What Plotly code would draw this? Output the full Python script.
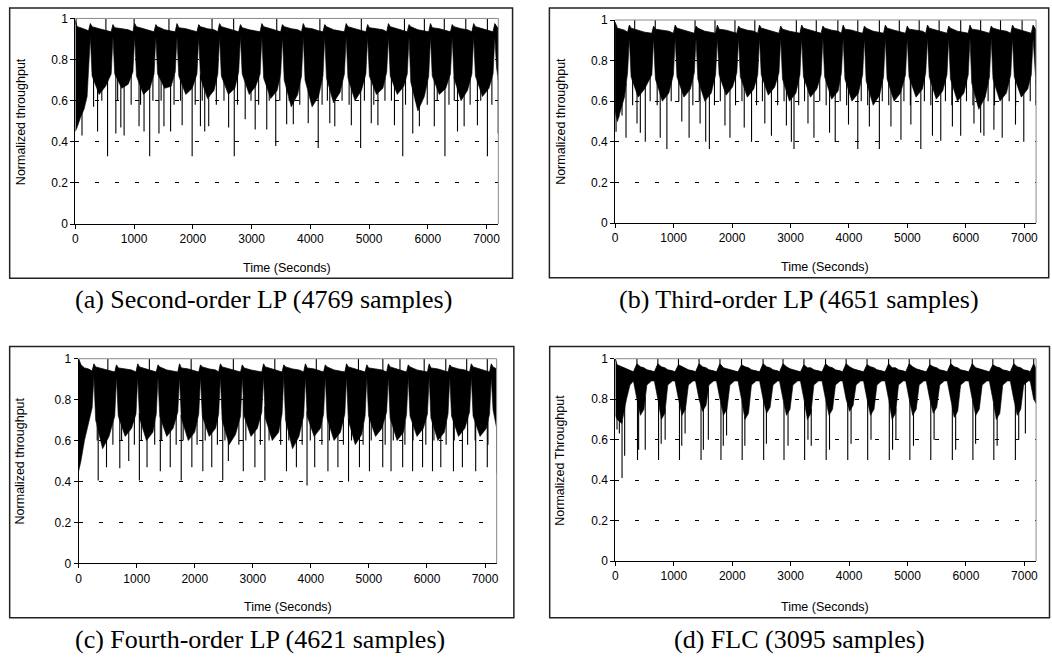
import numpy as np
import plotly.graph_objects as go

# Envelope knots (time in s, normalized throughput).
# low/high = lower and upper edge of the solid black band, dips = thin downward
# needles, peaks = thin needles up to 1.

# (a) Second-order LP
a_time = [0, 30, 90, 150, 200, 225,
          255, 285, 405, 515, 610,
          640, 670, 790, 900, 980,
          1010, 1040, 1160, 1270, 1340,
          1370, 1400, 1520, 1630, 1700,
          1730, 1760, 1880, 1990, 2070,
          2100, 2130, 2250, 2360, 2425,
          2455, 2485, 2605, 2715, 2780,
          2810, 2840, 2960, 3070, 3145,
          3175, 3205, 3325, 3435, 3495,
          3525, 3555, 3675, 3785, 3850,
          3880, 3910, 4030, 4140, 4215,
          4245, 4275, 4395, 4505, 4580,
          4610, 4640, 4760, 4870, 4945,
          4975, 5005, 5125, 5235, 5300,
          5330, 5360, 5480, 5590, 5650,
          5680, 5710, 5830, 5940, 6015,
          6045, 6075, 6195, 6305, 6385,
          6415, 6445, 6565, 6675, 6750,
          6780, 6810, 6930, 7040, 7110,
          7140, 7170, 7200]
a_low = [0.45, 0.47, 0.52, 0.56, 0.62, 0.74,
         0.91, 0.72, 0.63, 0.67, 0.73,
         0.91, 0.73, 0.66, 0.68, 0.74,
         0.91, 0.72, 0.63, 0.66, 0.73,
         0.91, 0.73, 0.66, 0.67, 0.74,
         0.91, 0.72, 0.63, 0.66, 0.73,
         0.91, 0.71, 0.61, 0.65, 0.73,
         0.91, 0.72, 0.63, 0.66, 0.74,
         0.91, 0.73, 0.63, 0.67, 0.73,
         0.91, 0.71, 0.61, 0.65, 0.73,
         0.91, 0.70, 0.57, 0.63, 0.72,
         0.91, 0.70, 0.57, 0.62, 0.72,
         0.91, 0.71, 0.59, 0.64, 0.73,
         0.91, 0.71, 0.60, 0.65, 0.73,
         0.91, 0.72, 0.63, 0.66, 0.74,
         0.91, 0.72, 0.63, 0.67, 0.73,
         0.91, 0.69, 0.55, 0.62, 0.72,
         0.91, 0.72, 0.63, 0.66, 0.73,
         0.91, 0.71, 0.60, 0.65, 0.73,
         0.91, 0.72, 0.62, 0.66, 0.73,
         0.91, 0.76, 0.70]
a_high = [0.99, 0.96, 0.955, 0.95, 0.945, 0.94,
          0.975, 0.96, 0.95, 0.94, 0.935,
          0.97, 0.955, 0.95, 0.945, 0.935,
          0.975, 0.96, 0.95, 0.94, 0.935,
          0.97, 0.96, 0.945, 0.94, 0.935,
          0.975, 0.955, 0.95, 0.94, 0.935,
          0.97, 0.96, 0.95, 0.945, 0.935,
          0.975, 0.96, 0.95, 0.94, 0.935,
          0.97, 0.955, 0.945, 0.94, 0.935,
          0.975, 0.96, 0.95, 0.94, 0.935,
          0.97, 0.96, 0.95, 0.945, 0.935,
          0.975, 0.955, 0.95, 0.94, 0.935,
          0.97, 0.96, 0.945, 0.94, 0.935,
          0.975, 0.96, 0.95, 0.94, 0.935,
          0.97, 0.955, 0.95, 0.945, 0.935,
          0.975, 0.96, 0.95, 0.94, 0.935,
          0.97, 0.96, 0.945, 0.94, 0.935,
          0.975, 0.955, 0.95, 0.94, 0.935,
          0.97, 0.96, 0.95, 0.945, 0.935,
          0.975, 0.96, 0.95, 0.94, 0.935,
          0.975, 0.96, 0.95]
a_dip_time = [113, 378, 548, 689, 774, 830, 1084, 1169, 1265, 1423, 1508, 1621,
              1818, 1988, 2129, 2202, 2270, 2609, 2705, 2891, 3061, 3258, 3411,
              3597, 3710, 3964, 4134, 4331, 4416, 4698, 4856, 5037, 5150, 5432,
              5573, 5743, 5856, 6110, 6291, 6505, 6618, 6844, 7014, 7198,
              310, 450, 720, 950, 1110, 1320, 1460, 1680, 1790, 2040, 2160, 2400,
              2530, 2760, 2990, 3120, 3300, 3480, 3640, 3820, 4060, 4200, 4290,
              4540, 4660, 4920, 5080, 5270, 5380, 5620, 5790, 5990, 6160, 6360,
              6450, 6720, 6900, 7090]
a_dip_val = [0.43, 0.45, 0.33, 0.44, 0.47, 0.43, 0.475, 0.45, 0.33, 0.44, 0.475, 0.45,
             0.48, 0.33, 0.475, 0.45, 0.475, 0.47, 0.33, 0.51, 0.46, 0.46, 0.38,
             0.485, 0.485, 0.49, 0.37, 0.49, 0.475, 0.48, 0.37, 0.49, 0.48, 0.48,
             0.33, 0.44, 0.475, 0.475, 0.33, 0.45, 0.475, 0.48, 0.33, 0.44,
             0.57, 0.60, 0.60, 0.58, 0.58, 0.60, 0.60, 0.58, 0.60, 0.58, 0.60, 0.58,
             0.60, 0.58, 0.60, 0.58, 0.60, 0.60, 0.60, 0.58, 0.60, 0.58, 0.60,
             0.60, 0.58, 0.60, 0.58, 0.60, 0.60, 0.58, 0.60, 0.58, 0.60, 0.58,
             0.60, 0.58, 0.60, 0.58]
a_peak_time = [11, 520, 1000, 1593, 2327, 2694, 3428, 4162, 4868, 5602, 5941, 6280, 6646, 7014]
a_peak_val = [1.0, 1.0, 1.0, 1.0, 1.0, 1.0, 1.0, 1.0, 1.0, 1.0, 1.0, 1.0, 1.0, 1.0]

# (b) Third-order LP
b_time = [0, 40, 100, 160, 214,
          244, 274, 394, 504, 629,
          659, 689, 809, 919, 998,
          1028, 1058, 1178, 1288, 1355,
          1385, 1415, 1535, 1645, 1719,
          1749, 1779, 1899, 2009, 2082,
          2112, 2142, 2262, 2372, 2440,
          2470, 2500, 2620, 2730, 2803,
          2833, 2863, 2983, 3093, 3161,
          3191, 3221, 3341, 3451, 3524,
          3554, 3584, 3704, 3814, 3871,
          3901, 3931, 4051, 4161, 4234,
          4264, 4294, 4414, 4524, 4592,
          4622, 4652, 4772, 4882, 4967,
          4997, 5027, 5147, 5257, 5313,
          5343, 5373, 5493, 5603, 5676,
          5706, 5736, 5856, 5966, 6040,
          6070, 6100, 6220, 6330, 6403,
          6433, 6463, 6583, 6693, 6767,
          6797, 6827, 6947, 7057, 7119,
          7149, 7179, 7200]
b_low = [0.55, 0.50, 0.56, 0.62, 0.74,
         0.91, 0.72, 0.62, 0.66, 0.73,
         0.91, 0.71, 0.60, 0.64, 0.73,
         0.91, 0.72, 0.62, 0.66, 0.74,
         0.91, 0.71, 0.60, 0.64, 0.73,
         0.91, 0.73, 0.63, 0.67, 0.74,
         0.91, 0.72, 0.62, 0.66, 0.73,
         0.91, 0.73, 0.63, 0.67, 0.74,
         0.91, 0.71, 0.60, 0.64, 0.73,
         0.91, 0.72, 0.62, 0.66, 0.73,
         0.91, 0.72, 0.61, 0.65, 0.74,
         0.91, 0.71, 0.60, 0.64, 0.73,
         0.91, 0.70, 0.58, 0.63, 0.72,
         0.91, 0.71, 0.60, 0.64, 0.73,
         0.91, 0.72, 0.62, 0.66, 0.74,
         0.91, 0.72, 0.61, 0.65, 0.73,
         0.91, 0.71, 0.60, 0.64, 0.73,
         0.91, 0.69, 0.56, 0.62, 0.72,
         0.91, 0.71, 0.60, 0.64, 0.73,
         0.91, 0.72, 0.62, 0.66, 0.73,
         0.91, 0.76, 0.68]
b_high = [0.99, 0.96, 0.955, 0.95, 0.94,
          0.975, 0.96, 0.95, 0.94, 0.935,
          0.97, 0.955, 0.95, 0.945, 0.935,
          0.975, 0.96, 0.95, 0.94, 0.935,
          0.97, 0.96, 0.945, 0.94, 0.935,
          0.975, 0.955, 0.95, 0.94, 0.935,
          0.97, 0.96, 0.95, 0.945, 0.935,
          0.975, 0.96, 0.95, 0.94, 0.935,
          0.97, 0.955, 0.945, 0.94, 0.935,
          0.975, 0.96, 0.95, 0.94, 0.935,
          0.97, 0.96, 0.95, 0.945, 0.935,
          0.975, 0.955, 0.95, 0.94, 0.935,
          0.97, 0.96, 0.945, 0.94, 0.935,
          0.975, 0.96, 0.95, 0.94, 0.935,
          0.97, 0.955, 0.95, 0.945, 0.935,
          0.975, 0.96, 0.95, 0.94, 0.935,
          0.97, 0.96, 0.945, 0.94, 0.935,
          0.975, 0.955, 0.95, 0.94, 0.935,
          0.97, 0.96, 0.95, 0.945, 0.935,
          0.975, 0.96, 0.95, 0.94, 0.935,
          0.975, 0.96, 0.95]
b_dip_time = [17, 62, 119, 187, 375, 432, 517, 772, 886, 1141, 1266, 1454, 1550,
              1613, 1879, 1965, 2209, 2334, 2561, 2674, 2930, 3015, 3060, 3299,
              3401, 3668, 3765, 3992, 4151, 4349, 4520, 4718, 4889, 5059, 5229,
              5428, 5570, 5769, 5911, 6138, 6252, 6308, 6479, 6621, 6848, 6990, 7196,
              300, 600, 720, 960, 1090, 1330, 1440, 1700, 1800, 2060, 2170, 2420,
              2520, 2780, 2890, 3140, 3240, 3500, 3610, 3850, 3960, 4210, 4320,
              4570, 4680, 4940, 5050, 5290, 5400, 5650, 5760, 6010, 6120, 6380,
              6490, 6740, 6850, 7100]
b_dip_val = [0.45, 0.52, 0.53, 0.42, 0.49, 0.445, 0.40, 0.42, 0.365, 0.50, 0.42, 0.49, 0.40,
             0.365, 0.48, 0.42, 0.47, 0.40, 0.49, 0.43, 0.48, 0.40, 0.365, 0.49,
             0.42, 0.445, 0.40, 0.485, 0.365, 0.475, 0.365, 0.475, 0.41, 0.485, 0.365,
             0.43, 0.405, 0.475, 0.43, 0.49, 0.445, 0.43, 0.46, 0.42, 0.485, 0.40, 0.58,
             0.58, 0.60, 0.58, 0.60, 0.60, 0.58, 0.60, 0.58, 0.60, 0.58, 0.60, 0.58,
             0.60, 0.58, 0.60, 0.58, 0.60, 0.60, 0.58, 0.60, 0.58, 0.60, 0.58,
             0.60, 0.58, 0.60, 0.58, 0.60, 0.58, 0.60, 0.58, 0.60, 0.58, 0.60,
             0.58, 0.60, 0.58, 0.60]
b_peak_time = [335, 687, 1368, 1709, 2050, 2390, 3100, 3441, 3810, 4151, 4520,
               4861, 5201, 5542, 5911, 6252, 6592, 6961]
b_peak_val = [1.0, 1.0, 1.0, 1.0, 1.0, 1.0, 1.0, 1.0, 1.0, 1.0, 1.0,
              1.0, 1.0, 1.0, 1.0, 1.0, 1.0, 1.0]

# (c) Fourth-order LP
c_time = [0, 40, 100, 170, 233,
          263, 293, 413, 523, 622,
          652, 682, 802, 912, 988,
          1018, 1048, 1168, 1278, 1337,
          1367, 1397, 1517, 1627, 1708,
          1738, 1768, 1888, 1998, 2069,
          2099, 2129, 2249, 2359, 2412,
          2442, 2472, 2592, 2702, 2789,
          2819, 2849, 2969, 3079, 3155,
          3185, 3215, 3335, 3445, 3504,
          3534, 3564, 3684, 3794, 3876,
          3906, 3936, 4056, 4166, 4219,
          4249, 4279, 4399, 4509, 4585,
          4615, 4645, 4765, 4875, 4934,
          4964, 4994, 5114, 5224, 5305,
          5335, 5365, 5485, 5595, 5648,
          5678, 5708, 5828, 5938, 6008,
          6038, 6068, 6188, 6298, 6363,
          6393, 6423, 6543, 6653, 6734,
          6764, 6794, 6914, 7024, 7078,
          7108, 7138, 7200]
c_low = [0.45, 0.50, 0.60, 0.68, 0.76,
         0.91, 0.70, 0.56, 0.62, 0.72,
         0.91, 0.72, 0.62, 0.66, 0.73,
         0.91, 0.71, 0.60, 0.64, 0.73,
         0.91, 0.72, 0.62, 0.66, 0.74,
         0.91, 0.71, 0.60, 0.64, 0.73,
         0.91, 0.72, 0.62, 0.66, 0.73,
         0.91, 0.70, 0.58, 0.63, 0.72,
         0.91, 0.72, 0.62, 0.66, 0.74,
         0.91, 0.71, 0.60, 0.64, 0.73,
         0.91, 0.70, 0.56, 0.62, 0.72,
         0.91, 0.72, 0.62, 0.66, 0.73,
         0.91, 0.71, 0.60, 0.64, 0.73,
         0.91, 0.70, 0.58, 0.63, 0.72,
         0.91, 0.72, 0.62, 0.66, 0.74,
         0.91, 0.71, 0.60, 0.64, 0.73,
         0.91, 0.72, 0.62, 0.66, 0.73,
         0.91, 0.71, 0.60, 0.64, 0.73,
         0.91, 0.72, 0.62, 0.66, 0.74,
         0.91, 0.72, 0.62, 0.66, 0.73,
         0.91, 0.75, 0.66]
c_high = [1.0, 0.97, 0.955, 0.95, 0.94,
          0.975, 0.96, 0.95, 0.94, 0.935,
          0.97, 0.955, 0.95, 0.945, 0.935,
          0.975, 0.96, 0.95, 0.94, 0.935,
          0.97, 0.96, 0.945, 0.94, 0.935,
          0.975, 0.955, 0.95, 0.94, 0.935,
          0.97, 0.96, 0.95, 0.945, 0.935,
          0.975, 0.96, 0.95, 0.94, 0.935,
          0.97, 0.955, 0.945, 0.94, 0.935,
          0.975, 0.96, 0.95, 0.94, 0.935,
          0.97, 0.96, 0.95, 0.945, 0.935,
          0.975, 0.955, 0.95, 0.94, 0.935,
          0.97, 0.96, 0.945, 0.94, 0.935,
          0.975, 0.96, 0.95, 0.94, 0.935,
          0.97, 0.955, 0.95, 0.945, 0.935,
          0.975, 0.96, 0.95, 0.94, 0.935,
          0.97, 0.96, 0.945, 0.94, 0.935,
          0.975, 0.955, 0.95, 0.94, 0.935,
          0.97, 0.96, 0.95, 0.945, 0.935,
          0.975, 0.96, 0.95, 0.94, 0.935,
          0.975, 0.96, 0.95]
c_dip_time = [337, 480, 709, 863, 1046, 1178, 1407, 1578, 1767, 1950, 2139, 2293,
              2482, 2579, 2836, 3036, 3208, 3580, 3751, 3934, 4066, 4294, 4466,
              4649, 4837, 5009, 5238, 5381, 5581, 5752, 5924, 6095, 6238, 6456,
              6610, 6839, 7039, 7199,
              320, 590, 740, 960, 1080, 1310, 1430, 1680, 1800, 2040, 2180, 2390,
              2520, 2760, 2880, 3130, 3280, 3480, 3620, 3850, 3990, 4190, 4320,
              4560, 4700, 4900, 5040, 5280, 5420, 5620, 5760, 5980, 6120, 6330,
              6470, 6700, 6830, 7050]
c_dip_val = [0.405, 0.47, 0.465, 0.50, 0.405, 0.47, 0.45, 0.47, 0.405, 0.47, 0.45, 0.47,
             0.405, 0.50, 0.45, 0.47, 0.405, 0.45, 0.47, 0.38, 0.47, 0.45, 0.47,
             0.40, 0.47, 0.45, 0.47, 0.45, 0.47, 0.45, 0.47, 0.45, 0.47, 0.45,
             0.47, 0.45, 0.47, 0.44,
             0.60, 0.58, 0.60, 0.58, 0.60, 0.58, 0.60, 0.58, 0.60, 0.58, 0.60, 0.58,
             0.60, 0.58, 0.60, 0.58, 0.60, 0.58, 0.60, 0.58, 0.60, 0.58, 0.60,
             0.58, 0.60, 0.58, 0.60, 0.58, 0.60, 0.58, 0.60, 0.58, 0.60, 0.58,
             0.60, 0.58, 0.60, 0.58]
c_peak_time = [503, 1218, 1938, 2665, 3379, 4094, 4820, 5240, 5535, 5952, 6324, 6684, 7039]
c_peak_val = [1.0, 1.0, 1.0, 1.0, 1.0, 1.0, 1.0, 1.0, 1.0, 1.0, 1.0, 1.0, 1.0]

# (d) FLC
d_time = [0, 30, 110, 190, 250,
          309, 369, 429, 489, 539, 619,
          667, 727, 787, 847, 897, 977,
          1020, 1080, 1140, 1200, 1250, 1330,
          1372, 1432, 1492, 1552, 1602, 1682,
          1730, 1790, 1850, 1910, 1960, 2040,
          2099, 2159, 2219, 2279, 2329, 2409,
          2468, 2528, 2588, 2648, 2698, 2778,
          2809, 2869, 2929, 2989, 3039, 3119,
          3167, 3227, 3287, 3347, 3397, 3477,
          3537, 3597, 3657, 3717, 3767, 3847,
          3889, 3949, 4009, 4069, 4119, 4199,
          4247, 4307, 4367, 4427, 4477, 4557,
          4616, 4676, 4736, 4796, 4846, 4926,
          4969, 5029, 5089, 5149, 5199, 5279,
          5321, 5381, 5441, 5501, 5551, 5631,
          5679, 5739, 5799, 5859, 5909, 5989,
          6048, 6108, 6168, 6228, 6278, 6358,
          6400, 6460, 6520, 6580, 6630, 6710,
          6758, 6818, 6878, 6938, 6988, 7068,
          7099, 7159, 7200]
d_low = [0.72, 0.70, 0.68, 0.80, 0.87,
         0.89, 0.80, 0.72, 0.75, 0.87, 0.89,
         0.89, 0.80, 0.70, 0.73, 0.87, 0.89,
         0.89, 0.80, 0.72, 0.75, 0.87, 0.89,
         0.89, 0.80, 0.74, 0.77, 0.87, 0.89,
         0.89, 0.80, 0.72, 0.75, 0.87, 0.89,
         0.89, 0.80, 0.70, 0.73, 0.87, 0.89,
         0.89, 0.80, 0.73, 0.76, 0.87, 0.89,
         0.89, 0.80, 0.72, 0.75, 0.87, 0.89,
         0.89, 0.80, 0.70, 0.73, 0.87, 0.89,
         0.89, 0.80, 0.72, 0.75, 0.87, 0.89,
         0.89, 0.80, 0.74, 0.77, 0.87, 0.89,
         0.89, 0.80, 0.72, 0.75, 0.87, 0.89,
         0.89, 0.80, 0.70, 0.73, 0.87, 0.89,
         0.89, 0.80, 0.72, 0.75, 0.87, 0.89,
         0.89, 0.80, 0.73, 0.76, 0.87, 0.89,
         0.89, 0.80, 0.71, 0.74, 0.87, 0.89,
         0.89, 0.80, 0.72, 0.75, 0.87, 0.89,
         0.89, 0.80, 0.70, 0.73, 0.87, 0.89,
         0.89, 0.80, 0.72, 0.75, 0.87, 0.89,
         0.89, 0.80, 0.78]
d_high = [1.0, 0.97, 0.96, 0.95, 0.945,
          0.935, 0.975, 0.96, 0.955, 0.945, 0.94,
          0.935, 0.975, 0.96, 0.955, 0.945, 0.94,
          0.935, 0.97, 0.96, 0.95, 0.945, 0.94,
          0.935, 0.975, 0.96, 0.955, 0.945, 0.94,
          0.935, 0.975, 0.955, 0.95, 0.945, 0.94,
          0.935, 0.97, 0.96, 0.955, 0.945, 0.94,
          0.935, 0.975, 0.96, 0.955, 0.945, 0.94,
          0.935, 0.975, 0.96, 0.95, 0.945, 0.94,
          0.935, 0.97, 0.955, 0.955, 0.945, 0.94,
          0.935, 0.975, 0.96, 0.955, 0.945, 0.94,
          0.935, 0.975, 0.96, 0.95, 0.945, 0.94,
          0.935, 0.97, 0.96, 0.955, 0.945, 0.94,
          0.935, 0.975, 0.955, 0.955, 0.945, 0.94,
          0.935, 0.975, 0.96, 0.95, 0.945, 0.94,
          0.935, 0.97, 0.96, 0.955, 0.945, 0.94,
          0.935, 0.975, 0.96, 0.955, 0.945, 0.94,
          0.935, 0.975, 0.955, 0.95, 0.945, 0.94,
          0.935, 0.97, 0.96, 0.955, 0.945, 0.94,
          0.935, 0.975, 0.96, 0.955, 0.945, 0.94,
          0.935, 0.975, 0.95]
d_dip_time = [28, 68, 114, 159, 379, 398, 511, 739, 784, 852, 1097, 1136, 1193,
              1466, 1506, 1591, 1807, 1847, 1903, 2170, 2216, 2538, 2585, 2886,
              2955, 3239, 3296, 3352, 3608, 3665, 3977, 4034, 4318, 4375, 4688,
              4744, 4801, 5040, 5102, 5398, 5455, 5767, 5824, 6119, 6165, 6477,
              6534, 6846, 6903, 7017, 7197]
d_dip_val = [0.65, 0.63, 0.41, 0.52, 0.50, 0.55, 0.55, 0.50, 0.58, 0.60, 0.50, 0.57, 0.63,
             0.50, 0.55, 0.60, 0.50, 0.57, 0.62, 0.50, 0.57, 0.50, 0.58, 0.50,
             0.57, 0.50, 0.60, 0.57, 0.50, 0.55, 0.50, 0.58, 0.50, 0.60, 0.50,
             0.55, 0.60, 0.50, 0.57, 0.50, 0.60, 0.50, 0.55, 0.50, 0.58, 0.50,
             0.57, 0.50, 0.60, 0.63, 0.78]
d_peak_time = [0, 369, 727, 1080, 1432, 1790, 2159, 2528, 2869, 3227, 3597, 3949,
               4307, 4676, 5029, 5381, 5739, 6108, 6460, 6818, 7159]
d_peak_val = [1.0, 1.0, 1.0, 1.0, 1.0, 1.0, 1.0, 1.0, 1.0, 1.0, 1.0, 1.0,
              1.0, 1.0, 1.0, 1.0, 1.0, 1.0, 1.0, 1.0, 1.0]

x_ticks = [0, 1000, 2000, 3000, 4000, 5000, 6000, 7000]
y_ticks = [0, 0.2, 0.4, 0.6, 0.8, 1]
y_ticktext = ['0', '0.2', '0.4', '0.6', '0.8', '1']

captions = ['(a) Second-order LP (4769 samples)', '(b) Third-order LP (4651 samples)',
            '(c) Fourth-order LP (4621 samples)', '(d) FLC (3095 samples)']
y_titles = ['Normalized throughput', 'Normalized throughput',
            'Normalized throughput', 'Normalized Throughput']
x_title = 'Time (Seconds)'

W, H = 1052, 663
def px(x):
    return x / W
def py(y):
    return 1 - y / H

# layout in pixels: plot area (x0, x1, ytop, ybot), outer frame, caption centre, y title x, x title centre
panels = [
    dict(plot=(72.7, 497.7, 11.7, 221.7), frame=(6.7, 512, 1, 277), cap=(262, 299), yt=18, xt=(285, 267)),
    dict(plot=(615, 1038, 13.3, 220.7), frame=(549, 1050.7, 1, 276.7), cap=(800, 299), yt=560, xt=(826, 266)),
    dict(plot=(76, 496, 359.3, 568.3), frame=(6.7, 513.3, 346.7, 624), cap=(258, 646), yt=17.5, xt=(286, 613)),
    dict(plot=(615.3, 1038, 359.3, 566), frame=(549.3, 1051.5, 346.7, 624), cap=(800, 646), yt=559.5, xt=(826, 613)),
]
series = [
    (a_time, a_low, a_high, a_dip_time, a_dip_val, a_peak_time, a_peak_val),
    (b_time, b_low, b_high, b_dip_time, b_dip_val, b_peak_time, b_peak_val),
    (c_time, c_low, c_high, c_dip_time, c_dip_val, c_peak_time, c_peak_val),
    (d_time, d_low, d_high, d_dip_time, d_dip_val, d_peak_time, d_peak_val),
]

sans = 'Liberation Sans, Arial, sans-serif'
serif = 'Liberation Serif, Times New Roman, serif'

fig = go.Figure()
shapes, annos = [], []
layout_axes = {}

for i, (p, s) in enumerate(zip(panels, series)):
    n = '' if i == 0 else str(i + 1)
    xa, ya = 'x' + n, 'y' + n
    t, lo, hi, dt, dv, pt, pv = s

    fig.add_trace(go.Scatter(x=t, y=lo, mode='lines', line=dict(color='black', width=0.6),
                             xaxis=xa, yaxis=ya, hoverinfo='skip', showlegend=False))
    fig.add_trace(go.Scatter(x=t, y=hi, mode='lines', fill='tonexty', fillcolor='black',
                             line=dict(color='black', width=0.8),
                             xaxis=xa, yaxis=ya, hoverinfo='skip', showlegend=False))

    # needles down from the band and up from it
    base_lo = np.interp(dt, t, lo)
    base_hi = np.interp(pt, t, hi)
    nx, ny = [], []
    for tt, b, v in zip(dt, base_lo, dv):
        nx += [tt, tt, None]
        ny += [b + 0.01, v, None]
    for tt, b, v in zip(pt, base_hi, pv):
        nx += [tt, tt, None]
        ny += [b - 0.01, v, None]
    fig.add_trace(go.Scatter(x=nx, y=ny, mode='lines', line=dict(color='black', width=1.1),
                             xaxis=xa, yaxis=ya, hoverinfo='skip', showlegend=False,
                             connectgaps=False))

    x0, x1, yt, yb = p['plot']
    layout_axes['xaxis' + n] = dict(
        domain=[px(x0), px(x1)], anchor=ya, range=[0, 7200], tickvals=x_ticks,
        showgrid=False, zeroline=False, showline=True, linecolor='black', linewidth=1,
        ticks='outside', ticklen=4, tickcolor='black', tickwidth=1,
        tickfont=dict(family=sans, size=12, color='black'), fixedrange=True)
    layout_axes['yaxis' + n] = dict(
        domain=[py(yb), py(yt)], anchor=xa, range=[0, 1], tickvals=y_ticks, ticktext=y_ticktext,
        showgrid=True, gridcolor='black', gridwidth=1, griddash='4px,16px',
        zeroline=False, showline=True, linecolor='black', linewidth=1,
        ticks='outside', ticklen=4, tickcolor='black', tickwidth=1,
        tickfont=dict(family=sans, size=12, color='black'), fixedrange=True)

    # grey plot-area border on top and right
    shapes.append(dict(type='line', xref='paper', yref='paper', x0=px(x0), x1=px(x1),
                       y0=py(yt), y1=py(yt), line=dict(color='#8a8a8a', width=1)))
    shapes.append(dict(type='line', xref='paper', yref='paper', x0=px(x1), x1=px(x1),
                       y0=py(yb), y1=py(yt), line=dict(color='#8a8a8a', width=1)))
    # outer frame of the chart
    fx0, fx1, fy0, fy1 = p['frame']
    shapes.append(dict(type='rect', xref='paper', yref='paper', x0=px(fx0), x1=px(fx1),
                       y0=py(fy1), y1=py(fy0), line=dict(color='#222222', width=1.5)))

    annos.append(dict(text=y_titles[i], xref='paper', yref='paper', x=px(p['yt']),
                      y=py((yt + yb) / 2), textangle=-90, showarrow=False,
                      xanchor='center', yanchor='middle',
                      font=dict(family=sans, size=12.5, color='black')))
    annos.append(dict(text=x_title, xref='paper', yref='paper', x=px(p['xt'][0]),
                      y=py(p['xt'][1]), showarrow=False, xanchor='center', yanchor='middle',
                      font=dict(family=sans, size=12.5, color='black')))
    annos.append(dict(text=captions[i], xref='paper', yref='paper', x=px(p['cap'][0]),
                      y=py(p['cap'][1]), showarrow=False, xanchor='center', yanchor='middle',
                      font=dict(family=serif, size=26, color='black')))

fig.update_layout(
    width=W, height=H, autosize=False,
    margin=dict(l=0, r=0, t=0, b=0),
    paper_bgcolor='white', plot_bgcolor='white',
    showlegend=False, shapes=shapes, annotations=annos,
    **layout_axes)

# page body margin off so the figure sits at the window's top-left corner
fig.write_html('out.html', config={'displayModeBar': False},
               post_script="document.body.style.margin='0px';")
